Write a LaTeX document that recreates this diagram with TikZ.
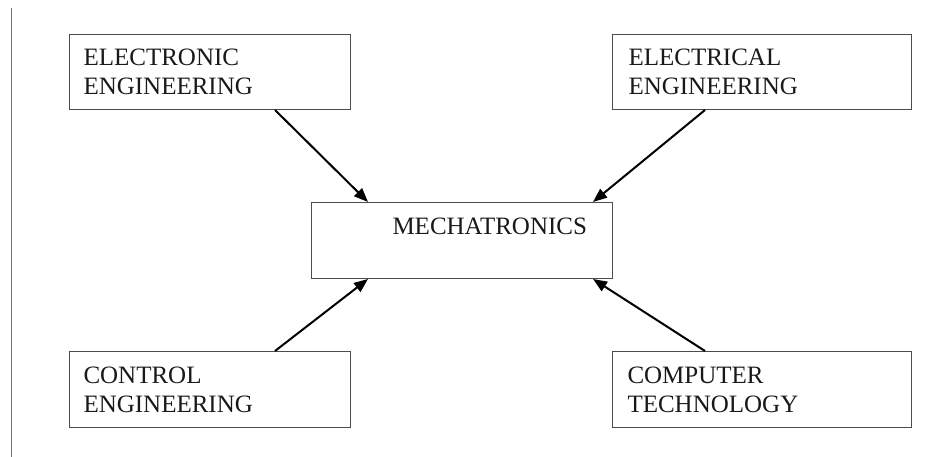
\documentclass[tikz,border=0pt]{standalone}
\usepackage{fontspec}
\setmainfont{Liberation Serif}
\usetikzlibrary{arrows.meta,calc}
\begin{document}
\begin{tikzpicture}[x=1pt,y=-1pt,
  box/.style={draw=black!70, line width=1pt, anchor=north west, inner xsep=14pt, inner ysep=0pt,
    align=left, font=\fontsize{25}{29}\selectfont, text=black!90},
  link/.style={line width=2pt, -{Triangle[length=14pt,width=11pt]}}]
\useasboundingbox (0,0) rectangle (935,457);
\draw[black!55, line width=1.6pt] (11.5,8) coordinate (ltop) -- (11.5,457) coordinate (lbot);
\node[box, text width=253pt, minimum height=75pt] (eln) at (69,34) {ELECTRONIC\\ENGINEERING};
\node[box, text width=271pt, inner xsep=14pt, minimum height=75pt] (elc) at (612,34) {\hspace*{2pt}ELECTRICAL\\\hspace*{2pt}ENGINEERING};
\node[box, text width=273pt, minimum height=76pt] (mech) at (311,202) {\hspace*{67pt}MECHATRONICS\\~};
\node[box, text width=253pt, minimum height=76pt] (ctl) at (69,351) {CONTROL\\ENGINEERING};
\node[box, text width=271pt, minimum height=76pt] (cmp) at (612,351) {\hspace*{1pt}COMPUTER\\\hspace*{1pt}TECHNOLOGY};
\draw[link] ($(eln.south west)+(206,0)$) -- ($(mech.north west)+(57,0)$);
\draw[link] ($(elc.south west)+(93,0)$) -- ($(mech.north west)+(282,0)$);
\draw[link] ($(ctl.north west)+(206,0)$) -- ($(mech.south west)+(57,0)$);
\draw[link] ($(cmp.north west)+(93,0)$) -- ($(mech.south west)+(282,0)$);
\end{tikzpicture}
\end{document}
